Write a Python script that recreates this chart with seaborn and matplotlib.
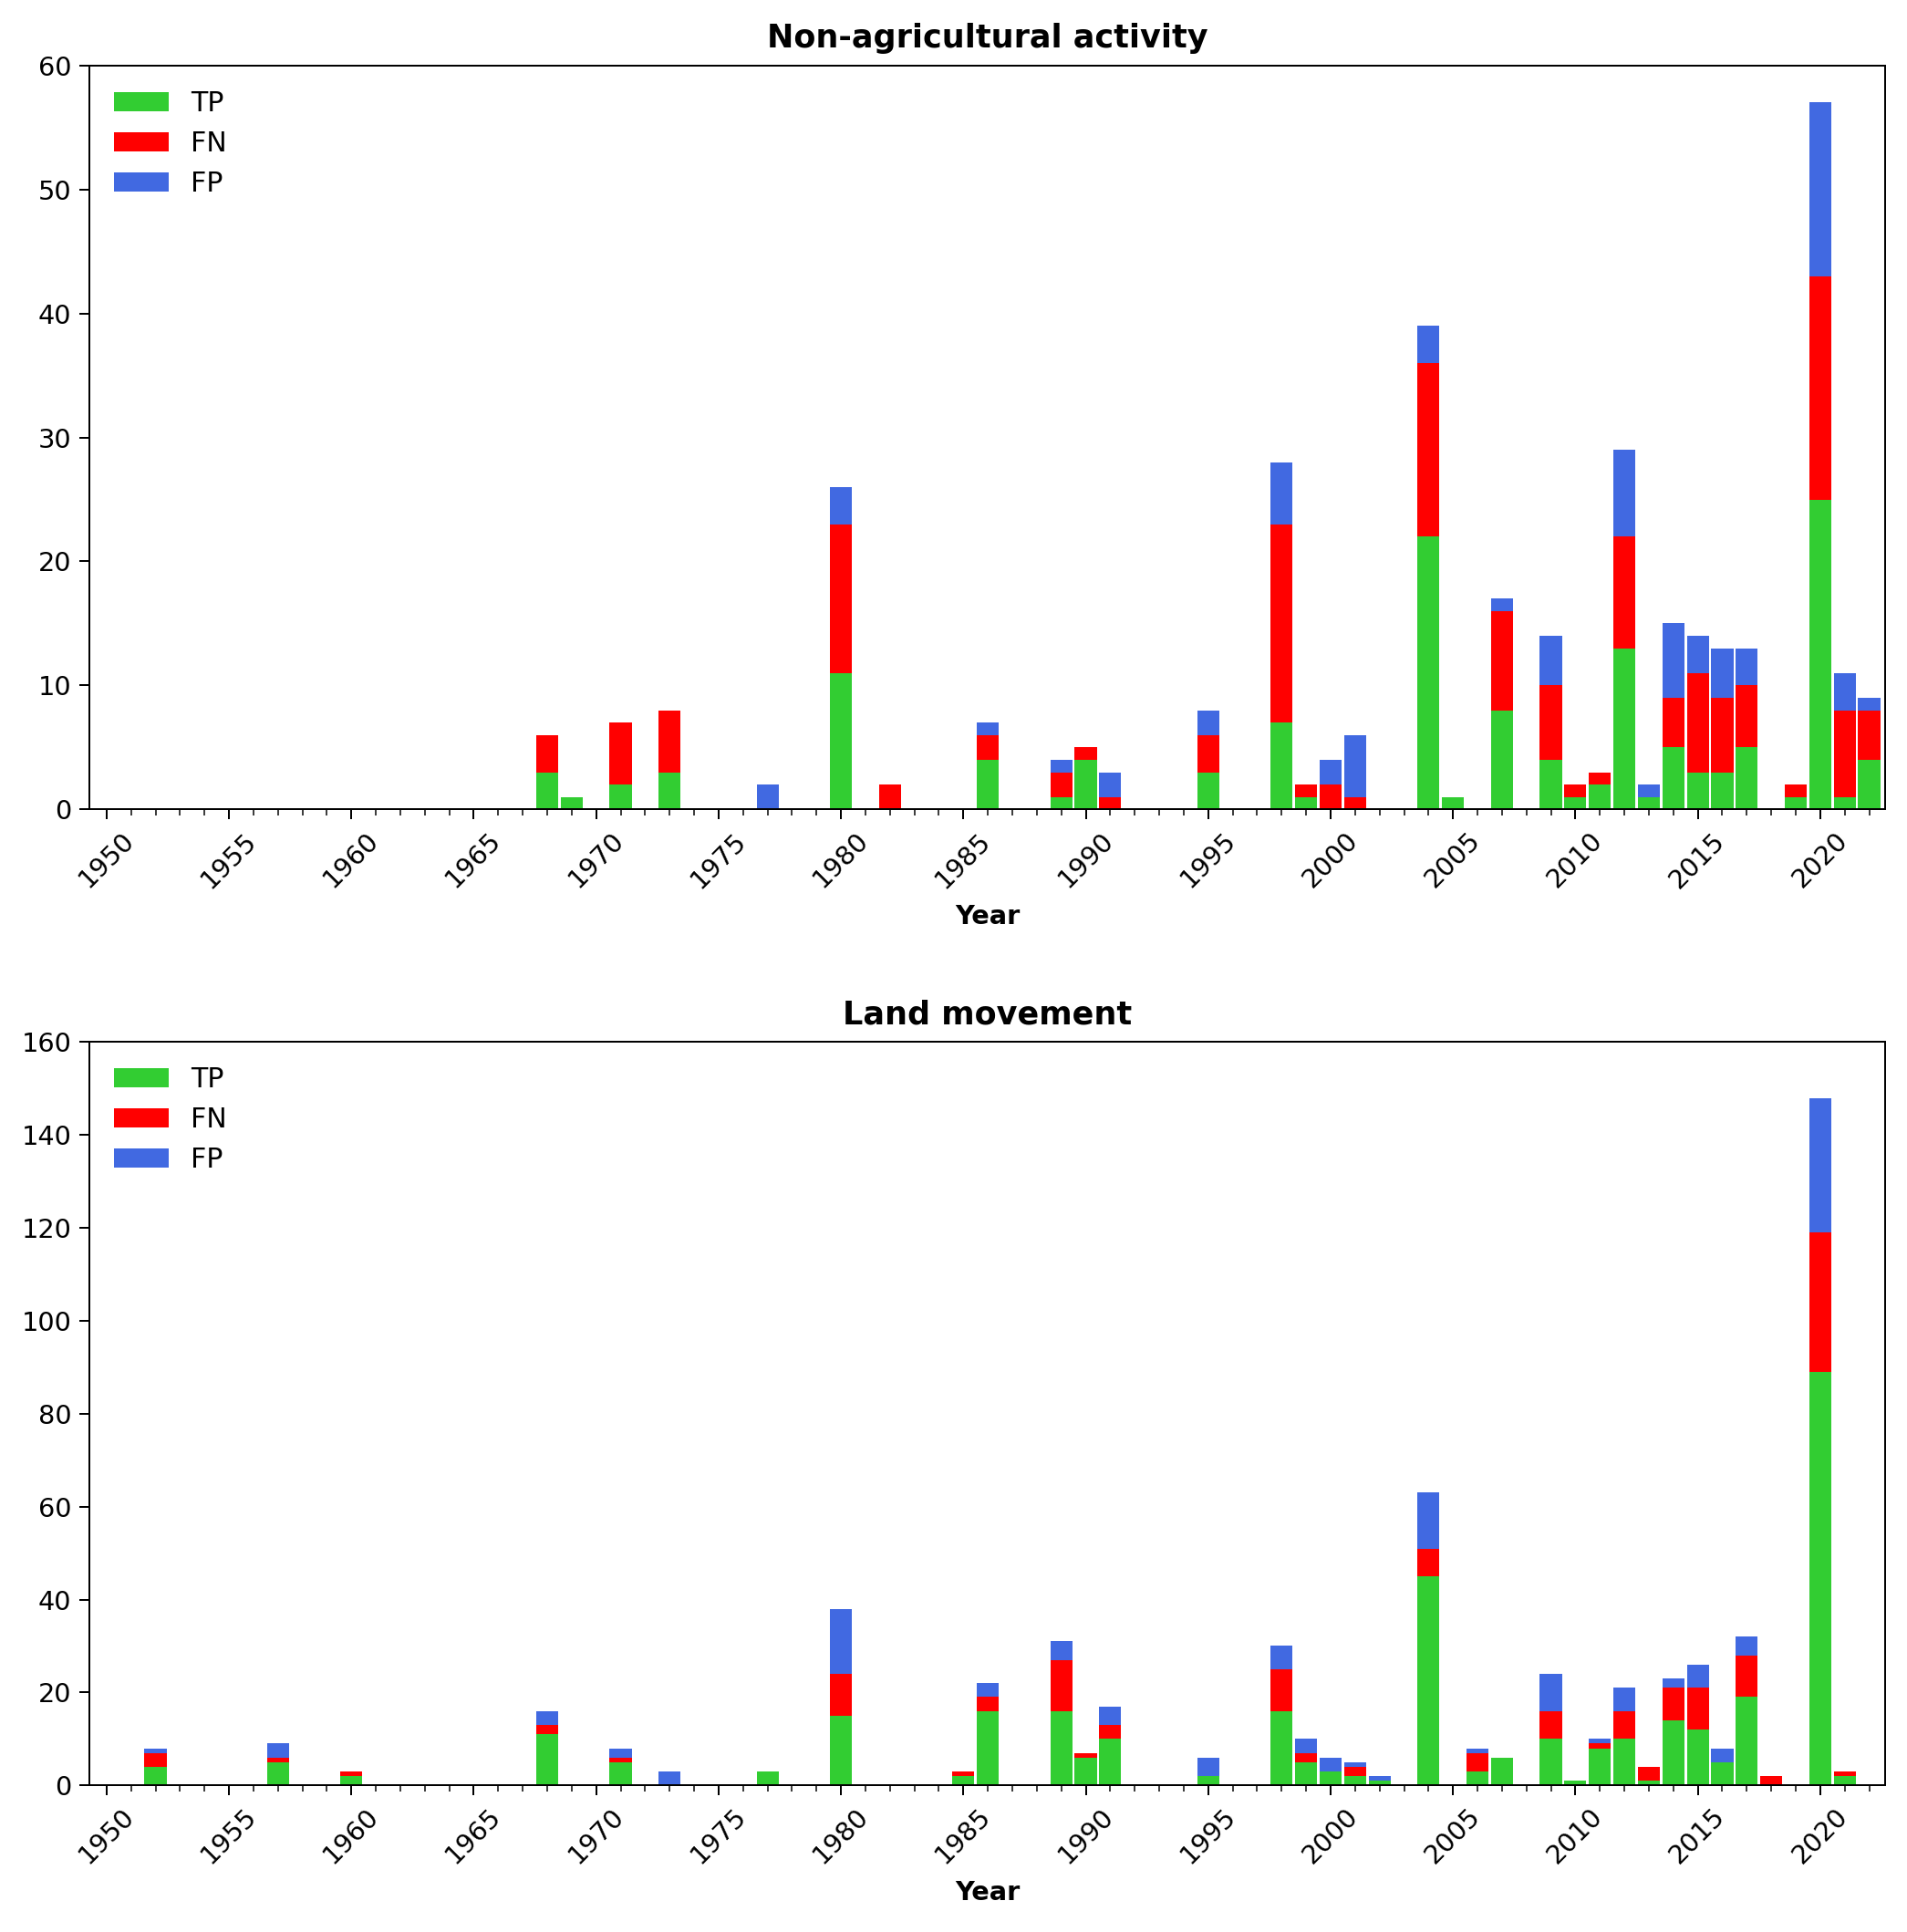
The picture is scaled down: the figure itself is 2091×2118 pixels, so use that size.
import numpy as np
import matplotlib
matplotlib.use("Agg")
import matplotlib.pyplot as plt
from matplotlib.ticker import MultipleLocator
import seaborn as sns

# Non-agricultural activity
years_na = [1968, 1969, 1971, 1973, 1977, 1980, 1982, 1986, 1989, 1990, 1991, 1995,
            1998, 1999, 2000, 2001, 2004, 2005, 2007, 2009, 2010, 2011, 2012, 2013,
            2014, 2015, 2016, 2017, 2019, 2020, 2021, 2022]
tp_na = [3, 1, 2, 3, 0, 11, 0, 4, 1, 4, 0, 3, 7, 1, 0, 0, 22, 1, 8, 4, 1, 2, 13, 1,
         5, 3, 3, 5, 1, 25, 1, 4]
fn_na = [3, 0, 5, 5, 0, 12, 2, 2, 2, 1, 1, 3, 16, 1, 2, 1, 14, 0, 8, 6, 1, 1, 9, 0,
         4, 8, 6, 5, 1, 18, 7, 4]
fp_na = [0, 0, 0, 0, 2, 3, 0, 1, 1, 0, 2, 2, 5, 0, 2, 5, 3, 0, 1, 4, 0, 0, 7, 1,
         6, 3, 4, 3, 0, 14, 3, 1]

# Land movement
years_lm = [1952, 1957, 1960, 1968, 1971, 1973, 1977, 1980, 1985, 1986, 1989, 1990,
            1991, 1995, 1998, 1999, 2000, 2001, 2002, 2004, 2006, 2007, 2009, 2010,
            2011, 2012, 2013, 2014, 2015, 2016, 2017, 2018, 2020, 2021]
tp_lm = [4, 5, 2, 11, 5, 0, 3, 15, 2, 16, 16, 6, 10, 2, 16, 5, 3, 2, 1, 45, 3, 6, 10, 1,
         8, 10, 1, 14, 12, 5, 19, 0, 89, 2]
fn_lm = [3, 1, 1, 2, 1, 0, 0, 9, 1, 3, 11, 1, 3, 0, 9, 2, 0, 2, 0, 6, 4, 0, 6, 0,
         1, 6, 3, 7, 9, 0, 9, 2, 30, 1]
fp_lm = [1, 3, 0, 3, 2, 3, 0, 14, 0, 3, 4, 0, 4, 4, 5, 3, 3, 1, 1, 12, 1, 0, 8, 0,
         1, 5, 0, 2, 5, 3, 4, 0, 29, 0]

colors = {"TP": "limegreen", "FN": "red", "FP": "royalblue"}

fig = plt.figure(figsize=(2091 / 180, 2118 / 180), dpi=180)
ax1 = fig.add_axes([0.0469, 0.5810, 0.9416, 0.3852])
ax2 = fig.add_axes([0.0469, 0.0759, 0.9416, 0.3847])


def stacked(ax, years, tp, fn, fp, title, ymax, ystep):
    tp = np.array(tp)
    fn = np.array(fn)
    fp = np.array(fp)
    # draw cumulative layers from the top one down so they stack
    layers = [("FP", tp + fn + fp), ("FN", tp + fn), ("TP", tp)]
    for name, h in layers:
        sns.barplot(x=years, y=h, color=colors[name], native_scale=True,
                    width=0.9, saturation=1, linewidth=0, errorbar=None,
                    label=name, ax=ax)
    handles, labels = ax.get_legend_handles_labels()
    order = [labels.index(n) for n in ["TP", "FN", "FP"]]
    ax.legend([handles[i] for i in order], [labels[i] for i in order],
              loc="upper left", frameon=False, fontsize=12)
    ax.set_xlim(1949.3, 2022.65)
    ax.set_ylim(0, ymax)
    ax.yaxis.set_major_locator(MultipleLocator(ystep))
    ax.xaxis.set_major_locator(MultipleLocator(5))
    ax.xaxis.set_minor_locator(MultipleLocator(1))
    ax.tick_params(axis="both", which="major", length=4.4, labelsize=11.5)
    ax.tick_params(axis="x", which="minor", length=2.7)
    for lab in ax.get_xticklabels():
        lab.set_rotation(45)
    ax.set_xlabel("Year", fontsize=11.5, fontweight="bold", labelpad=5)
    ax.set_ylabel("")
    ax.set_title(title, fontsize=14, fontweight="bold", pad=8)


stacked(ax1, years_na, tp_na, fn_na, fp_na, "Non-agricultural activity", 60, 10)
stacked(ax2, years_lm, tp_lm, fn_lm, fp_lm, "Land movement", 160, 20)

fig.savefig("out.png", dpi=180)
